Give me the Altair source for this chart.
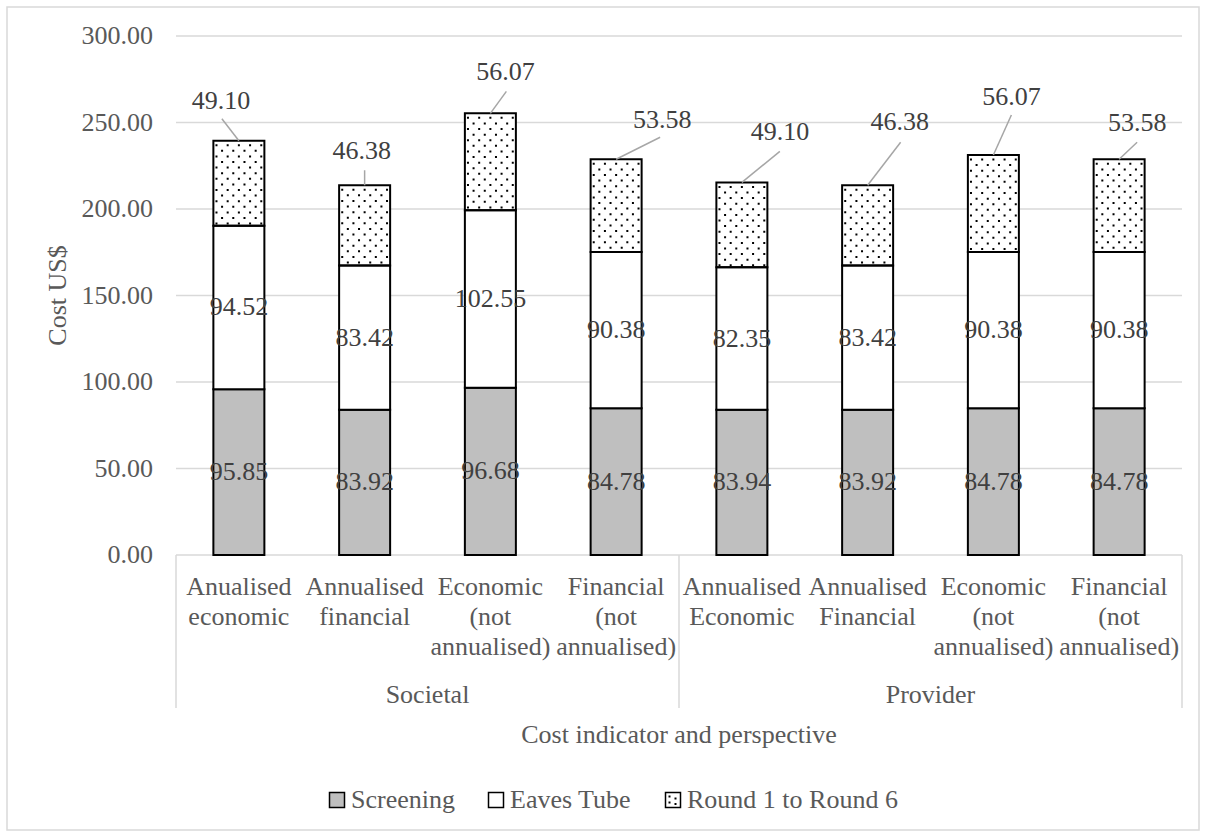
import altair as alt
import pandas as pd

# ---------------- data ----------------
categories = [
    "Anualised\neconomic", "Annualised\nfinancial", "Economic\n(not\nannualised)", "Financial\n(not\nannualised)",
    "Annualised\nEconomic", "Annualised\nFinancial", "Economic\n(not\nannualised)", "Financial\n(not\nannualised)",
]
perspectives = ["Societal"] * 4 + ["Provider"] * 4
series_names = ["Screening", "Eaves Tube", "Round 1 to Round 6"]
screening = [95.85, 83.92, 96.68, 84.78, 83.94, 83.92, 84.78, 84.78]
eaves_tube = [94.52, 83.42, 102.55, 90.38, 82.35, 83.42, 90.38, 90.38]
rounds = [49.10, 46.38, 56.07, 53.58, 49.10, 46.38, 56.07, 53.58]
y_ticks = [0, 50, 100, 150, 200, 250, 300]
x_title = "Cost indicator and perspective"
y_title = "Cost US$"

# callout layout (pixels, relative to the top centre of each bar; dy measured upwards)
label_dx = [-18, -3, 15, 46, 38, 32, 18, 18]
label_dy = [40, 34, 41, 39, 50, 63, 58, 36]
lead_dx = [-17, 0, 16, 44, 38, 33, 18, 18]
lead_dy = [22, 15, 22, 22, 31, 43, 40, 17]

# ---------------- layout ----------------
W, H = 1006, 519
PAD = {"left": 176, "top": 36, "right": 24, "bottom": 282}
N = len(categories)
YMAX = 300
PX_X = N / W          # x data units per pixel
PX_Y = YMAX / H       # y data units per pixel
HALF = 25.5 * PX_X    # half bar width
DOT_STEP = 5.6
FONT = "Liberation Serif"
FS = 26
AXIS_C = "#595959"
LABEL_C = "#404040"
GRID_C = "#d9d9d9"

rows = []
for i in range(N):
    for k, (s, vals) in enumerate(zip(series_names, [screening, eaves_tube, rounds])):
        rows.append({
            "idx": i, "series": s, "order": k, "value": vals[i],
            "ldx": label_dx[i], "ldy": label_dy[i], "adx": lead_dx[i], "ady": lead_dy[i],
        })
df = pd.DataFrame(rows)
cat_df = pd.DataFrame({"idx": list(range(N)), "cat": [c.replace("\n", "|") for c in categories]})
tick_df = pd.DataFrame({"v": y_ticks, "x0": [0] * len(y_ticks), "x1": [N] * len(y_ticks)})

# group boundaries from the perspectives list
bounds, mids, names = [0], [], []
start = 0
for i in range(1, N + 1):
    if i == N or perspectives[i] != perspectives[start]:
        bounds.append(i)
        mids.append((start + i) / 2)
        names.append(perspectives[start])
        start = i
gdf = pd.DataFrame({"b": bounds})
gmid = pd.DataFrame({"m": mids, "name": names})

xs = alt.Scale(domain=[0, N], nice=False, zero=False)
ys = alt.Scale(domain=[0, YMAX], nice=False)

# ---------------- value axis (grid, labels, title) ----------------
grid = alt.Chart(tick_df).mark_rule(stroke=GRID_C, strokeWidth=1.5).encode(
    x=alt.X("x0:Q", scale=xs, axis=None),
    x2="x1:Q",
    y=alt.Y("v:Q", scale=ys, axis=None),
)
ylabels = alt.Chart(tick_df).mark_text(
    font=FONT, fontSize=FS, color=AXIS_C, align="right", baseline="middle"
).encode(
    x=alt.value(-23),
    y=alt.Y("v:Q", scale=ys, axis=None),
    text=alt.Text("v:Q", format=".2f"),
)
ytitle = alt.Chart(pd.DataFrame({"t": [y_title]})).mark_text(
    font=FONT, fontSize=FS, color=AXIS_C, angle=270, align="center", baseline="middle"
).encode(
    x=alt.value(58 - PAD["left"]),
    y=alt.value(H / 2),
    text="t:N",
)

base = alt.Chart(df).transform_stack(
    stack="value", groupby=["idx"], as_=["y0", "y1"],
    sort=[alt.SortField("order", "ascending")],
).transform_calculate(
    xc="datum.idx + 0.5",
    xl=f"datum.idx + 0.5 - {HALF}",
    xr=f"datum.idx + 0.5 + {HALF}",
    ym="(datum.y0 + datum.y1) / 2",
)

legend = alt.Legend(
    orient="none", legendX=148, legendY=751, direction="horizontal", title=None,
    symbolType="square", symbolSize=225, symbolStrokeColor="black", symbolStrokeWidth=1.5,
    labelFontSize=FS, labelFont=FONT, labelColor=AXIS_C, labelOffset=1, columnPadding=28,
    labelLimit=0,
)

underlay = base.mark_bar(fill="white").encode(
    x=alt.X("xl:Q", scale=xs, axis=None),
    x2="xr:Q",
    y=alt.Y("y0:Q", scale=ys, axis=None),
    y2="y1:Q",
)
bars = base.mark_bar(stroke="black", strokeWidth=2).encode(
    x=alt.X("xl:Q", scale=xs, axis=None),
    x2="xr:Q",
    y=alt.Y("y0:Q", scale=ys, axis=None),
    y2="y1:Q",
    fill=alt.Fill("series:N",
                  scale=alt.Scale(domain=series_names, range=["#bfbfbf", "#ffffff", "rgba(255,255,255,0)"]),
                  legend=legend),
)

dots_base = base.transform_filter(alt.datum.series == series_names[2]).transform_calculate(
    col="sequence(0, 9)"
).transform_flatten(["col"]).transform_calculate(
    xd=f"datum.idx + 0.5 + (datum.col - 4) * {DOT_STEP * PX_X}",
    par="datum.col % 2",
)
dot_layers = []
for par, off in [(0, 11.2 - 3.5), (1, 2.1)]:
    dot_layers.append(
        dots_base.transform_filter(alt.datum.par == par).mark_rule(
            stroke="black", strokeWidth=2, strokeDash=[2, 9.2], strokeDashOffset=off, strokeCap="butt"
        ).encode(
            x=alt.X("xd:Q", scale=xs, axis=None),
            y=alt.Y("y1:Q", scale=ys, axis=None),
            y2="y0:Q",
        )
    )

seg_labels = base.transform_filter(alt.datum.series != series_names[2]).mark_text(
    font=FONT, fontSize=FS, color=LABEL_C, baseline="middle", align="center"
).encode(
    x=alt.X("xc:Q", scale=xs, axis=None),
    y=alt.Y("ym:Q", scale=ys, axis=None),
    text=alt.Text("value:Q", format=".2f"),
)

top = base.transform_filter(alt.datum.series == series_names[2]).transform_calculate(
    lx=f"datum.xc + datum.ldx * {PX_X}",
    ly=f"datum.y1 + datum.ldy * {PX_Y}",
    ax=f"datum.xc + datum.adx * {PX_X}",
    ay=f"datum.y1 + datum.ady * {PX_Y}",
)
top_labels = top.mark_text(font=FONT, fontSize=FS, color=LABEL_C, baseline="middle", align="center").encode(
    x=alt.X("lx:Q", scale=xs, axis=None),
    y=alt.Y("ly:Q", scale=ys, axis=None),
    text=alt.Text("value:Q", format=".2f"),
)
leaders = top.mark_rule(stroke="#a6a6a6", strokeWidth=1.5).encode(
    x=alt.X("ax:Q", scale=xs, axis=None),
    y=alt.Y("ay:Q", scale=ys, axis=None),
    x2="xc:Q",
    y2="y1:Q",
)

# category axis (two levels) drawn as text/rule layers under the plot
cat_labels = alt.Chart(cat_df).transform_calculate(xc="datum.idx + 0.5").mark_text(
    font=FONT, fontSize=FS, color=AXIS_C, baseline="top", align="center", lineBreak="|", lineHeight=30
).encode(
    x=alt.X("xc:Q", scale=xs, axis=None),
    y=alt.value(H + 19),
    text="cat:N",
)
seps = alt.Chart(gdf).mark_rule(stroke=GRID_C, strokeWidth=1.5).encode(
    x=alt.X("b:Q", scale=xs, axis=None),
    y=alt.value(H),
    y2=alt.value(672),
)
group_labels = alt.Chart(gmid).mark_text(font=FONT, fontSize=FS, color=AXIS_C, baseline="middle").encode(
    x=alt.X("m:Q", scale=xs, axis=None),
    y=alt.value(659),
    text="name:N",
)
xtitle = alt.Chart(pd.DataFrame({"t": [x_title], "m": [N / 2]})).mark_text(
    font=FONT, fontSize=FS, color=AXIS_C, baseline="middle"
).encode(
    x=alt.X("m:Q", scale=xs, axis=None),
    y=alt.value(699),
    text="t:N",
)
border = alt.Chart(pd.DataFrame({"a": [0]})).mark_rect(
    fillOpacity=0, stroke=GRID_C, strokeWidth=1.5
).encode(
    x=alt.value(-169), x2=alt.value(1023), y=alt.value(-29), y2=alt.value(794),
)

# dotted texture on the third legend swatch (the swatch itself is transparent)
legend_dots = []
for ddx, ddy in [(-3.5, -3.5), (2.5, -1.5), (-3.5, 2.5), (2.5, 4.0)]:
    cx, cy = 673 - PAD["left"] + ddx, 800 - PAD["top"] + ddy
    legend_dots.append(
        alt.Chart(pd.DataFrame({"a": [0]})).mark_rect(fill="black").encode(
            x=alt.value(cx - 1), x2=alt.value(cx + 1), y=alt.value(cy - 1), y2=alt.value(cy + 1)
        )
    )

chart = alt.layer(
    border, grid, ylabels, ytitle, seps, group_labels, cat_labels, xtitle,
    underlay, bars, *dot_layers, seg_labels, leaders, top_labels, *legend_dots,
).properties(
    width=W, height=H, padding=PAD, autosize=alt.AutoSizeParams(type="none"),
).configure(font=FONT).configure_view(stroke=None)

chart.save("out.html", embed_options={"renderer": "svg", "actions": False})
